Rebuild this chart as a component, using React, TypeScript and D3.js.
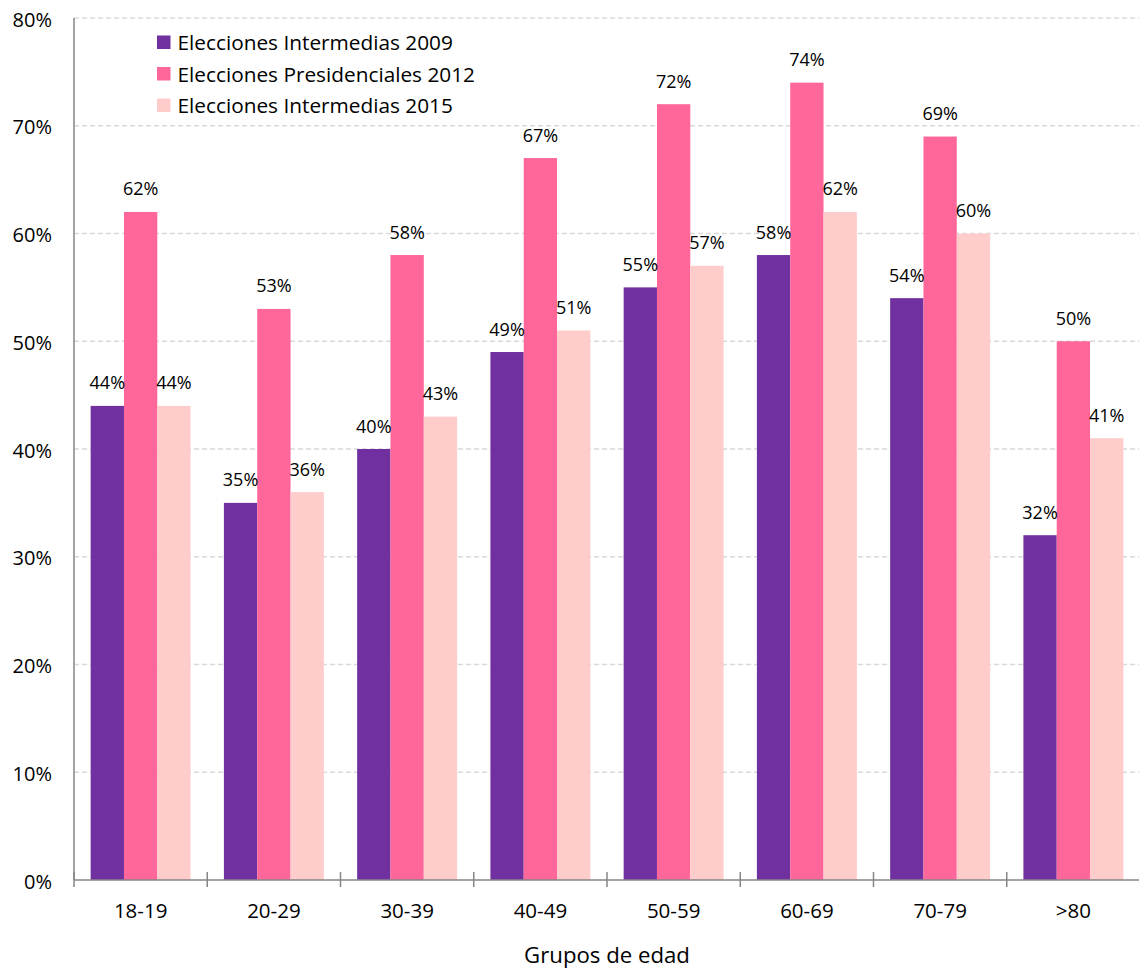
import React from "react";
import * as d3 from "d3";

const categories = ["18-19", "20-29", "30-39", "40-49", "50-59", "60-69", "70-79", ">80"];
const series2009 = [44, 35, 40, 49, 55, 58, 54, 32];
const series2012 = [62, 53, 58, 67, 72, 74, 69, 50];
const series2015 = [44, 36, 43, 51, 57, 62, 60, 41];
const seriesNames = ["Elecciones Intermedias 2009", "Elecciones Presidenciales 2012", "Elecciones Intermedias 2015"];
const seriesColors = ["#7030A0", "#FF6699", "#FFCCCC"];
const yTicks = [0, 10, 20, 30, 40, 50, 60, 70, 80];

const W = 1139, H = 968;
const left = 74, right = 1140, top = 18, bottom = 880;
const FONT = "'Open Sans', 'Noto Sans', sans-serif";

export default function App() {
  React.useEffect(() => { document.body.style.margin = "0"; }, []);
  const allSeries = [series2009, series2012, series2015];
  const x = d3.scaleBand<string>().domain(categories).range([left, right]).paddingInner(0).paddingOuter(0);
  const xs = d3.scaleBand<number>().domain([0, 1, 2]).range([0, x.bandwidth() * 0.75]);
  const off = x.bandwidth() * 0.125;
  const y = d3.scaleLinear().domain([0, 80]).range([bottom, top]);
  const tickXs = d3.range(categories.length + 1).map(i => left + i * x.step());
  return (
    <svg width={W} height={H} style={{ display: "block", fontFamily: FONT }}>
      {yTicks.slice(1).map(t => (
        <line key={t} x1={left} x2={right} y1={y(t)} y2={y(t)} stroke="#d9d9d9" strokeWidth={1.3} strokeDasharray="5,3" />
      ))}
      {allSeries.map((s, si) => s.map((v, ci) => (
        <rect key={si + "-" + ci} x={(x(categories[ci]) as number) + off + (xs(si) as number)} y={y(v)}
          width={xs.bandwidth()} height={y(0) - y(v)} fill={seriesColors[si]} />
      )))}
      {allSeries.map((s, si) => s.map((v, ci) => (
        <text key={"l" + si + "-" + ci} x={(x(categories[ci]) as number) + off + (xs(si) as number) + xs.bandwidth() / 2}
          y={y(v) - 23.5} textAnchor="middle" dominantBaseline="central" fontSize={18} fill="#000">{v}%</text>
      )))}
      <line x1={left} x2={left} y1={top} y2={bottom} stroke="#868686" strokeWidth={1.5} />
      <line x1={left} x2={right} y1={bottom} y2={bottom} stroke="#868686" strokeWidth={1.5} />
      {tickXs.map((tx, i) => (
        <line key={"t" + i} x1={tx} x2={tx} y1={bottom - 8} y2={bottom + 7} stroke="#868686" strokeWidth={1.5} />
      ))}
      {yTicks.map(t => (
        <text key={"y" + t} x={52} y={y(t) + 1} textAnchor="end" dominantBaseline="central" fontSize={20} fill="#000">{t}%</text>
      ))}
      {categories.map(c => (
        <text key={"x" + c} x={(x(c) as number) + x.bandwidth() / 2} y={910} textAnchor="middle" dominantBaseline="central" fontSize={20.5} fill="#000">{c}</text>
      ))}
      <text x={(left + right) / 2} y={954} textAnchor="middle" dominantBaseline="central" fontSize={22.2} fill="#000">Grupos de edad</text>
      {seriesNames.map((n, i) => (
        <g key={n} transform={`translate(157, ${42 + i * 31.5})`}>
          <rect x={0} y={-6.5} width={13.5} height={13.5} fill={seriesColors[i]} />
          <text x={20.5} y={0} dominantBaseline="central" fontSize={20.8} fill="#000">{n}</text>
        </g>
      ))}
    </svg>
  );
}
